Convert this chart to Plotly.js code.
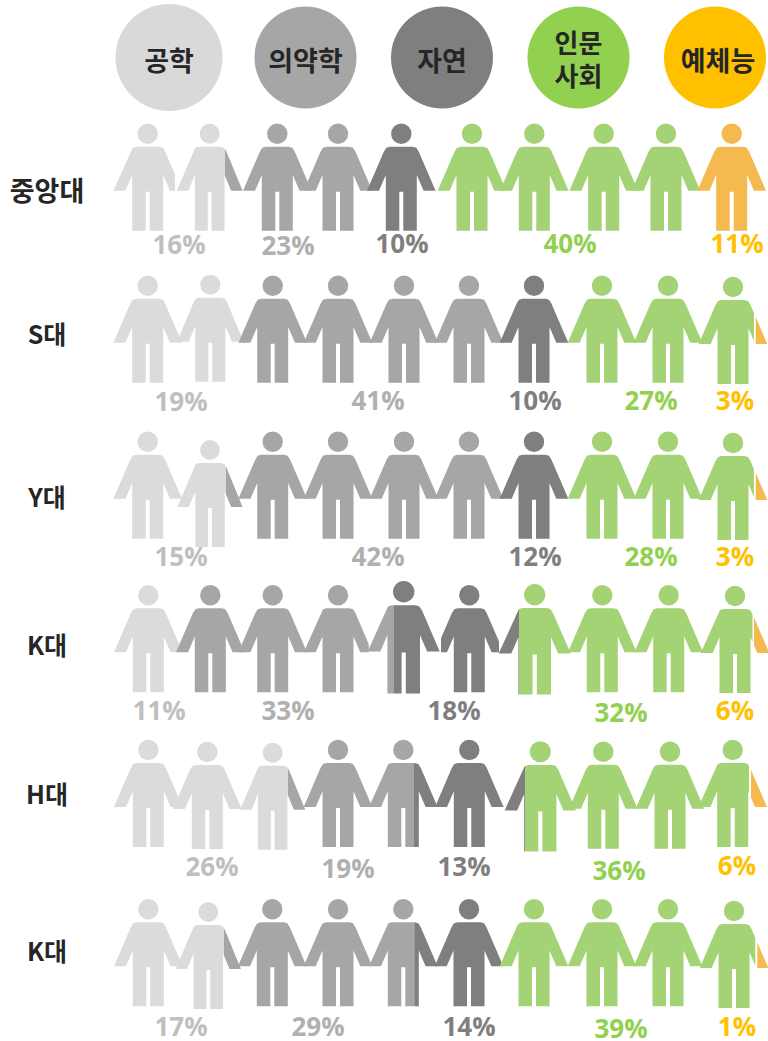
<!DOCTYPE html>
<html>
<head>
<meta charset="utf-8">
<script src="https://cdn.plot.ly/plotly-3.0.1.min.js"></script>
<style>html,body{margin:0;padding:0;background:#fff}#chart{width:768px;height:1041px}</style>
</head>
<body>
<div id="chart"></div>
<script>
// ---------- data ----------
const fieldNames = ['공학', '의약학', '자연', '인문<br>사회', '예체능'];
const schools = ['중앙대', 'S대', 'Y대', 'K대', 'H대', 'K대'];
const share1 = [16, 23, 10, 40, 11];
const share2 = [19, 41, 10, 27, 3];
const share3 = [15, 42, 12, 28, 3];
const share4 = [11, 33, 18, 32, 6];
const share5 = [26, 19, 13, 36, 6];
const share6 = [17, 29, 14, 39, 1];
const shares = [share1, share2, share3, share4, share5, share6];

// field index of the left / right part of each of the ten figures in a row
const left1 = [0,0,1,1,2,3,3,3,3,4], right1 = [0,1,1,1,2,3,3,3,3,4];
const left2 = [0,0,1,1,1,1,2,3,3,3], right2 = [0,0,1,1,1,1,2,3,3,4];
const left3 = [0,0,1,1,1,1,2,3,3,3], right3 = [0,1,1,1,1,1,2,3,3,4];
const left4 = [0,1,1,1,1,2,2,3,3,3], right4 = [0,1,1,1,2,2,3,3,3,4];
const left5 = [0,0,0,1,1,2,2,3,3,3], right5 = [0,0,1,1,2,2,3,3,3,4];
const left6 = [0,0,1,1,1,2,3,3,3,3], right6 = [0,1,1,1,2,2,3,3,3,4];
const lefts = [left1,left2,left3,left4,left5,left6];
const rights = [right1,right2,right3,right4,right5,right6];

// ---------- placement (page pixels) ----------
const circleColors = ['#d9d9d9','#a6a6a6','#7f7f7f','#92d050','#ffc000'];
const figureColors = ['#dbdbdb','#a6a6a6','#7f7f7f','#a4d376','#f4b94f'];
const labelColors  = ['#bfbfbf','#b0b0b0','#7f7f7f','#92d050','#ffc000'];
const circleX = [169, 305.5, 442, 578.5, 715];
const circleY = [57.5, 57.5, 57.5, 57.5, 57.5];
const circleD = [107, 102, 102, 102, 102];
const fieldX = [169, 305.5, 442, 578.5, 718];
const fieldY = [64, 64, 64, 63, 64];
const fieldSize = [27, 27, 27, 26, 27];
const schoolX = [47, 47, 47, 47, 47, 47];
const schoolY = [194, 338, 501, 649, 798, 955];
const schoolSize = [27, 25, 25, 25, 25, 25];

const pctX = [[179,288,402,570,737],[181,378,535,651,735],[181,378,535,651,735],
              [159,288,454,621,735],[212,348,464,619,737],[181,318,469,621,737]];
const pctY = [[247,248,246,246,246],[404,403,403,403,403],[559,559,559,559,559],
              [713,713,713,715,713],[869,871,869,873,868],[1029,1029,1029,1031,1029]];

const figX = [[147.7,209.7,277.3,338,401.3,472,534.3,603.7,666,731.7],
              [147.7,210.3,272.7,338,404,469,534,602,668,733],
              [147.7,210,272.7,338,404,469,534,602,668,733],
              [148.3,210.3,272.7,338,403.7,469.3,534.7,602.3,668.7,735],
              [148.3,207.3,272.7,338,403.3,469.3,540.3,603.3,670,732.7],
              [148.3,208.3,272.3,338,403.3,469,534,602,668,734]];
const figY = [[133.7,133.7,133.7,133.7,133.7,133.7,133.7,133.7,133.7,133.7],
              [285.7,284.7,285.7,285.7,285.7,285.7,285.7,285.7,285.7,287],
              [441.7,450,441.7,441.7,441.7,441.7,441.7,441.7,441.7,443],
              [595.3,595.3,595.3,595.3,591.7,595.3,594.7,595.3,595.3,596],
              [750,752,752.7,750,750,750,751.7,751.7,751.7,750],
              [909.3,912,909.3,909.3,909.3,909.3,909.3,909.3,909.3,911]];
const figW = [[1,.96,1,1,1,1,1,1,1,1],
              [1,.97,1,1,1,1,1,1,1,1],
              [1,.95,1,1,1,1,1,1,1,1],
              [1,1,1,1,1.05,1,1.05,1,1,1],
              [1,1,.95,1,1,1,1.04,1,1,1],
              [1,.95,1,1,1,1,1,1,1,1]];
const figH = [[1,1,1,1,1,1,1,1,1,1],
              [1,1,1,1,1,1,1,1,1,1],
              [1,1,1,1,1,1,1,1,1,1],
              [1,1,1,1,1.05,1,1.03,1,1,1],
              [1,1,1,1,1,1,1.03,1,1,1],
              [1,1,1,1,1,1,1,1,1,1]];
// where the colour changes, per row {figure: [left part ends, right part starts]}
const splitAt = [{1:[225,225]},
                 {9:[754,755.7]},
                 {1:[226,226],9:[754,755.7]},
                 {4:[394,394],6:[519,519],9:[752.5,754]},
                 {2:[288,288],4:[414,414],6:[525,525],9:[749,751]},
                 {1:[224,224],4:[414.3,414.3],9:[755.3,757.3]}];
// cropped figure edges, per row {figure: [xmin,xmax]}
const cropAt = [{0:[0,175]},{},{},{3:[0,368.7],5:[441,499]},{},{}];

// Figure outline around the head centre
const outline = [[-11.5,13],[11.5,13],[15,14],[17.5,18],[34.3,57],[22.3,57],[15.5,41.3],[15.5,97],[2,97],[2,58],[-2,58],[-2,97],
                 [-15.5,97],[-15.5,41.3],[-22.3,57],[-34.3,57],[-17.5,18],[-15,14]];
const headR = 10.2;

// keep the part of a polygon with sign*(x-c) >= 0
function clip(poly, c, sign) {
  const out = [];
  for (let i = 0; i < poly.length; i++) {
    const a = poly[i], b = poly[(i + 1) % poly.length];
    const ina = sign * (a[0] - c) >= 0, inb = sign * (b[0] - c) >= 0;
    if (ina) out.push(a);
    if (ina !== inb) {
      const t = (c - a[0]) / (b[0] - a[0]);
      out.push([c, a[1] + t * (b[1] - a[1])]);
    }
  }
  return out;
}

const traces = [];
const labelFont = 'Open Sans, "Noto Sans CJK KR", sans-serif';
const krFont = '"Noto Sans CJK KR", sans-serif';

// percentages lie under the figures
shares.forEach((row, r) => {
  traces.push({
    type: 'scatter', mode: 'text', x: pctX[r], y: pctY[r], cliponaxis: false,
    text: row.map(v => v + '%'), textposition: 'middle center',
    textfont: {family: labelFont, size: 26, weight: 700, color: labelColors},
    hoverinfo: 'skip'
  });
});

function piece(poly, color) {
  if (poly.length < 3) return;
  traces.push({
    type: 'scatter', mode: 'lines', fill: 'toself', fillcolor: color,
    x: poly.map(p => p[0]).concat(poly[0][0]),
    y: poly.map(p => p[1]).concat(poly[0][1]),
    line: {width: 0, color: color}, hoverinfo: 'skip'
  });
}

lefts.forEach((row, r) => {
  row.forEach((cat, i) => {
    const cx = figX[r][i], cy = figY[r][i], w = figW[r][i], h = figH[r][i];
    let poly = outline.map(p => [cx + p[0] * w, cy + p[1] * h]);
    const crop = cropAt[r][i];
    if (crop) poly = clip(clip(poly, crop[0], 1), crop[1], -1);
    const s = splitAt[r][i];
    let headCat = cat;
    if (s !== undefined) {
      piece(clip(poly, s[0], -1), figureColors[cat]);
      piece(clip(poly, s[1], 1), figureColors[rights[r][i]]);
      if (cx > s[1]) headCat = rights[r][i];
    } else {
      piece(poly, figureColors[cat]);
    }
    traces.push({
      type: 'scatter', mode: 'markers', x: [cx], y: [cy],
      marker: {size: 2 * headR * (w + h) / 2, color: figureColors[headCat], opacity: 1, line: {width: 0}},
      hoverinfo: 'skip'
    });
  });
});

// field circles
traces.push({
  type: 'scatter', mode: 'markers', x: circleX, y: circleY,
  marker: {size: circleD, color: circleColors, opacity: 1, line: {width: 0}}, hoverinfo: 'skip'
});
traces.push({
  type: 'scatter', mode: 'text', x: fieldX, y: fieldY, text: fieldNames,
  textposition: 'middle center',
  textfont: {family: krFont, size: fieldSize, weight: 700, color: '#262626'}, hoverinfo: 'skip'
});
// school names
traces.push({
  type: 'scatter', mode: 'text', x: schoolX, y: schoolY, text: schools,
  textposition: 'middle center',
  textfont: {family: krFont, size: schoolSize, weight: 700, color: '#262626'}, hoverinfo: 'skip'
});

Plotly.newPlot('chart', traces, {
  width: 768, height: 1041,
  margin: {l: 0, r: 0, t: 0, b: 0},
  paper_bgcolor: '#fff', plot_bgcolor: '#fff', showlegend: false,
  xaxis: {range: [0, 768], visible: false, fixedrange: true},
  yaxis: {range: [1041, 0], visible: false, fixedrange: true}
}, {displayModeBar: false, staticPlot: true});
</script>
</body>
</html>
